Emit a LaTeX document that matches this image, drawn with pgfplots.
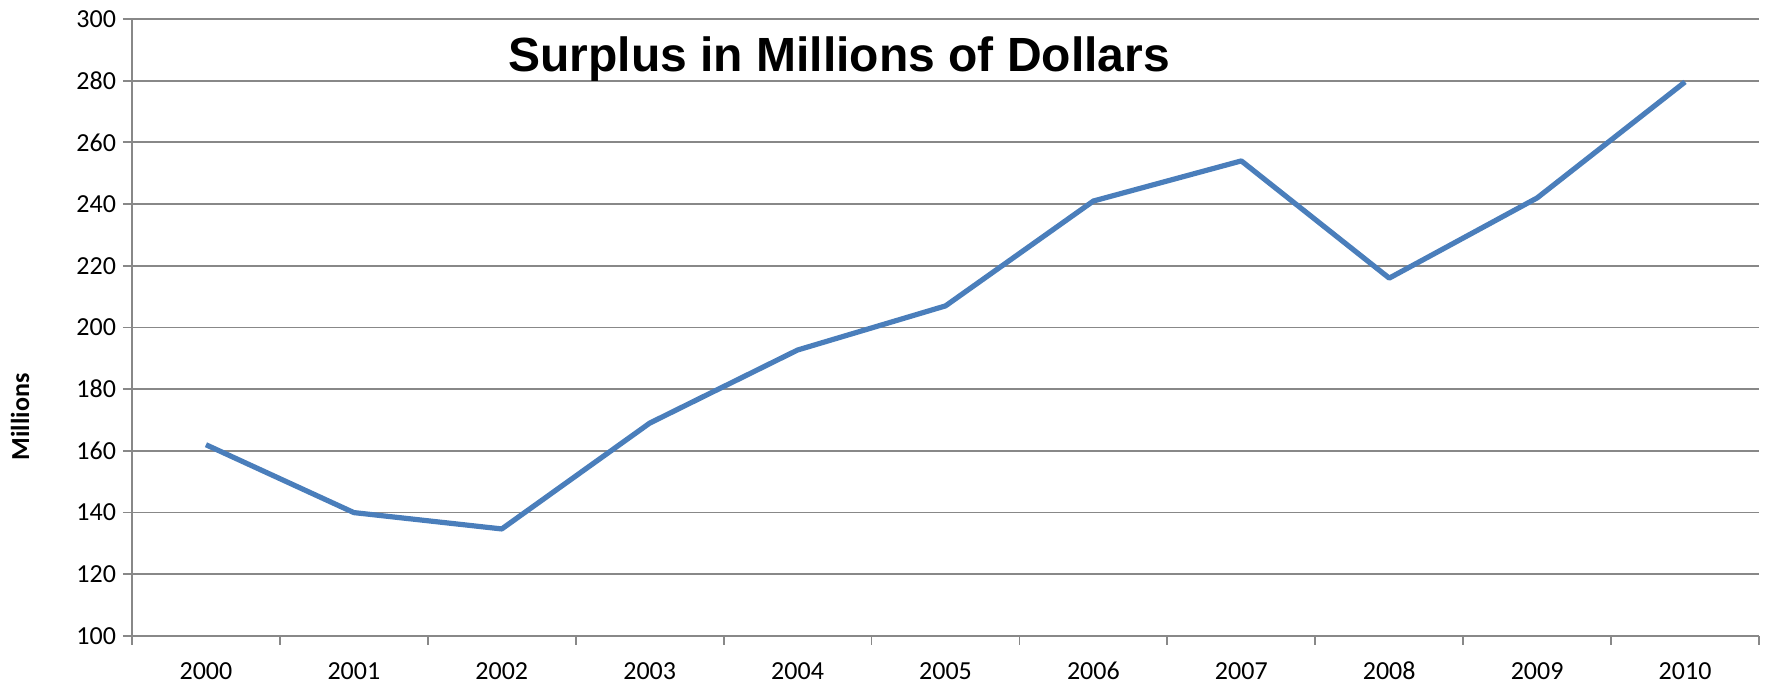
\documentclass[border=0pt]{standalone}
\usepackage{pgfplots}
\pgfplotsset{compat=1.18}
\usepackage{fontspec}
\setmainfont{Carlito}
\newfontfamily\titlefont{Liberation Sans}
\definecolor{gridgray}{HTML}{888888}
\definecolor{lineblue}{HTML}{4A7EBB}
\begin{document}
\begin{tikzpicture}
\path[use as bounding box] (-66pt,-24pt) rectangle (817pt,318pt);
\begin{axis}[
  at={(0,0)}, anchor=south west,
  scale only axis,
  width=813.5pt, height=308.5pt,
  xmin=-0.5, xmax=10.5,
  ymin=100, ymax=300,
  ytick={100,120,...,300},
  xtick={0,...,10},
  xticklabels={2000,2001,2002,2003,2004,2005,2006,2007,2008,2009,2010},
  minor xtick={-0.5,0.5,...,10.5},
  axis lines=left,
  axis line style={draw=gridgray, line width=0.9pt, -},
  tick align=outside,
  major tick length=4.5pt,
  minor tick length=4.5pt,
  x tick style={draw=none},
  minor x tick style={draw=gridgray, line width=0.9pt},
  y tick style={draw=gridgray, line width=0.9pt},
  ymajorgrids,
  major grid style={draw=gridgray, line width=0.9pt},
  tick label style={font=\fontsize{13}{15}\selectfont},
  /pgf/number format/assume math mode=true,
  xticklabel style={yshift=-6pt, text height=1.6ex, text depth=0.3ex},
  ylabel={\textbf{Millions}},
  ylabel style={font=\fontsize{13}{15}\selectfont, at={(axis description cs:-0.0688,0.355)}, anchor=center},
  clip=false,
]
\addplot[lineblue, line width=2.6pt, line join=round] coordinates {
(0,162) (1,140) (2,134.7) (3,169) (4,192.7) (5,207) (6,241) (7,254) (8,216) (9,242) (10,279.6)
};
\node[font=\titlefont\fontsize{24}{28}\selectfont\bfseries] at (axis cs:4.28,287) {Surplus in Millions of Dollars};
\end{axis}
\end{tikzpicture}
\end{document}
